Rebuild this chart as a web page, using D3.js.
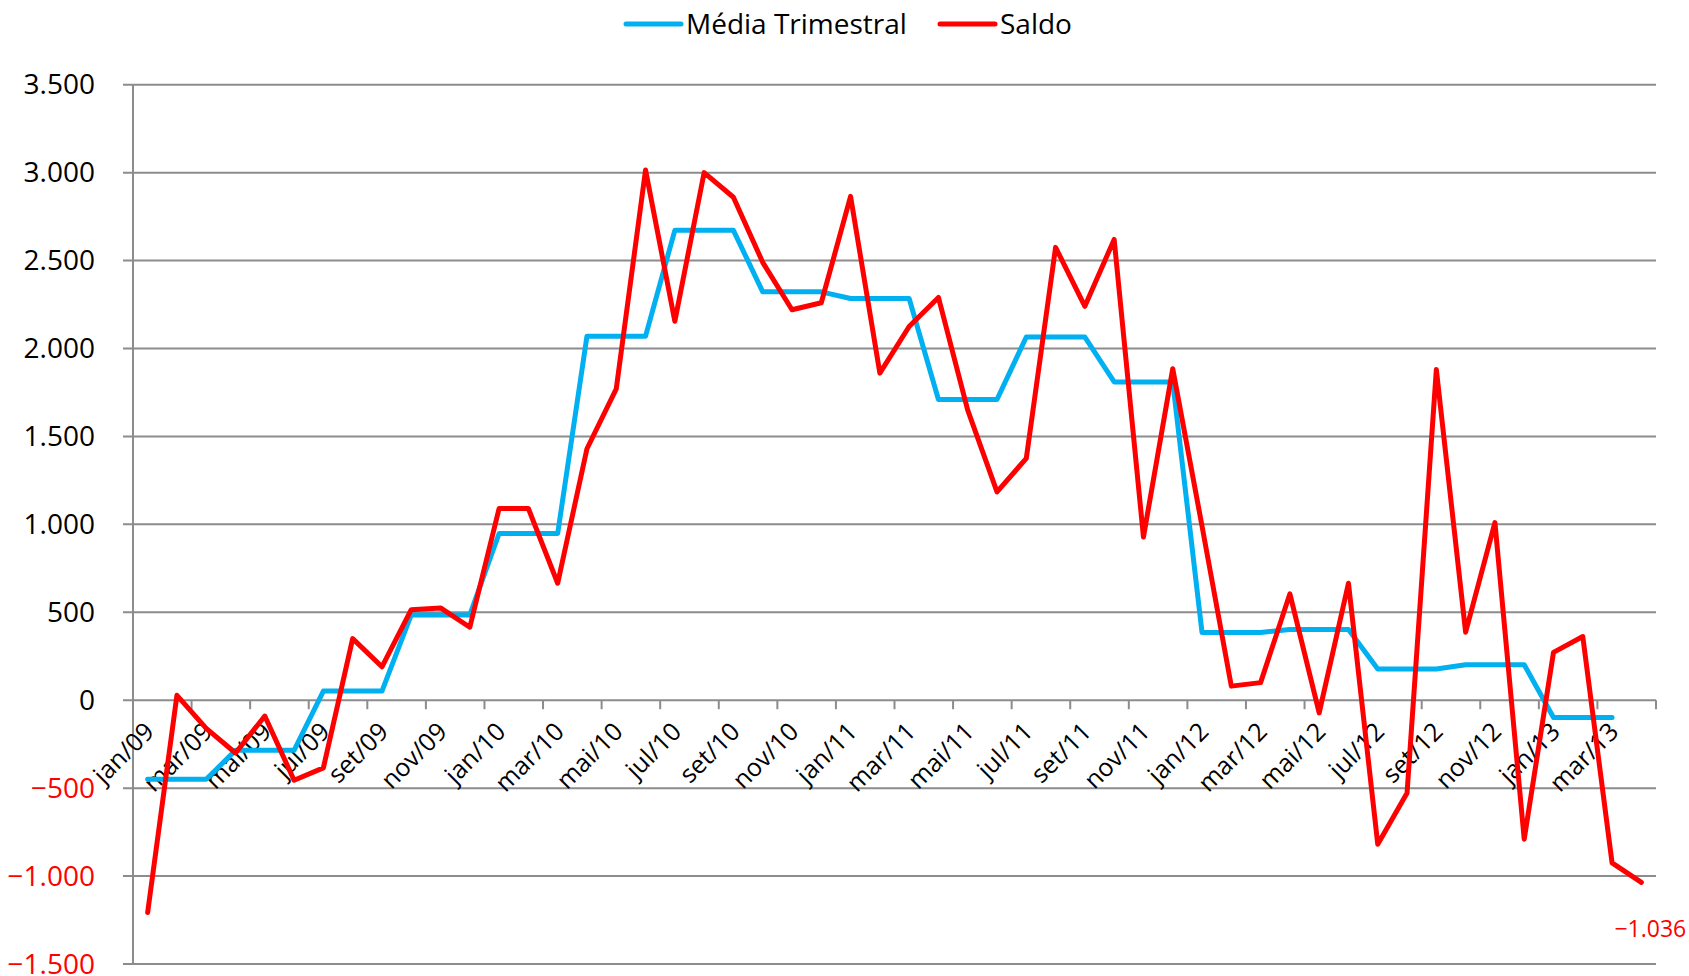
<!DOCTYPE html>
<html>
<head>
<meta charset="utf-8">
<script src="https://cdn.jsdelivr.net/npm/d3@7"></script>
<style>
 body {margin: 0; background: #fff;}
 text {font-family: "Open Sans", sans-serif;}
</style>
</head>
<body>
<svg width="1689" height="976"></svg>
<script>

// month categories, jan/09 .. abr/13
var months = [
 'jan/09','fev/09','mar/09','abr/09','mai/09','jun/09','jul/09','ago/09','set/09','out/09','nov/09','dez/09',
 'jan/10','fev/10','mar/10','abr/10','mai/10','jun/10','jul/10','ago/10','set/10','out/10','nov/10','dez/10',
 'jan/11','fev/11','mar/11','abr/11','mai/11','jun/11','jul/11','ago/11','set/11','out/11','nov/11','dez/11',
 'jan/12','fev/12','mar/12','abr/12','mai/12','jun/12','jul/12','ago/12','set/12','out/12','nov/12','dez/12',
 'jan/13','fev/13','mar/13','abr/13'];

var saldo = [-1207, 28, -160, -300, -90, -455, -385, 350, 190, 515, 525, 415,
 1090, 1090, 665, 1430, 1770, 3015, 2155, 3000, 2860, 2490, 2220, 2260,
 2865, 1860, 2125, 2290, 1650, 1185, 1375, 2575, 2240, 2620, 928, 1885,
 990, 80, 100, 605, -72, 665, -819, -528, 1880, 387, 1010, -790,
 272, 362, -925, -1036];

var media = [-450, -450, -450, -285, -285, -285, 52, 52, 52, 485, 485, 485,
 948, 948, 948, 2070, 2070, 2070, 2672, 2672, 2672, 2322, 2322, 2322,
 2284, 2284, 2284, 1710, 1710, 1710, 2065, 2065, 2065, 1810, 1810, 1810,
 385, 385, 385, 402, 402, 402, 178, 178, 178, 202, 202, 202,
 -98, -98, -98, null];

var yTicks = [-1500, -1000, -500, 0, 500, 1000, 1500, 2000, 2500, 3000, 3500];

var series = [
 {name: 'Média Trimestral', values: media, color: '#00B0F0'},
 {name: 'Saldo', values: saldo, color: '#FF0000'}
];

var svg = d3.select('svg');
var br = d3.formatLocale({decimal: ',', thousands: '.', grouping: [3], currency: ['R$', '']});
var fmt = br.format(',d');

var x = d3.scaleBand().domain(d3.range(months.length)).range([133, 1656]).padding(0);
var y = d3.scaleLinear().domain([-1500, 3500]).range([964, 84.7]);
var cx = function(i) { return x(i) + x.bandwidth() / 2; };

// gridlines
svg.append('g')
 .selectAll('line')
 .data(yTicks)
 .enter()
  .append('line')
   .attr('x1', 123).attr('x2', 1656)
   .attr('y1', function(d) { return y(d); })
   .attr('y2', function(d) { return y(d); })
   .style('stroke', '#8c8c8c').style('stroke-width', 2);

// y axis
svg.append('line')
 .attr('x1', 133).attr('x2', 133)
 .attr('y1', y(3500)).attr('y2', y(-1500))
 .style('stroke', '#8c8c8c').style('stroke-width', 2);

svg.append('g')
 .selectAll('text')
 .data(yTicks)
 .enter()
  .append('text')
   .attr('x', 95)
   .attr('y', function(d) { return y(d); })
   .attr('dy', '0.34em')
   .attr('text-anchor', 'end')
   .style('font-size', '28px')
   .style('fill', function(d) { return d < 0 ? '#FF0000' : '#000'; })
   .text(function(d) { return fmt(d); });

// x axis at zero
var tickIdx = d3.range(0, months.length + 1, 2);
svg.append('g')
 .selectAll('line')
 .data(tickIdx)
 .enter()
  .append('line')
   .attr('x1', function(i) { return i < months.length ? x(i) : 1656; })
   .attr('x2', function(i) { return i < months.length ? x(i) : 1656; })
   .attr('y1', y(0)).attr('y2', y(0) + 9)
   .style('stroke', '#8c8c8c').style('stroke-width', 2);

svg.append('g')
 .selectAll('text')
 .data(d3.range(0, months.length, 2))
 .enter()
  .append('text')
   .attr('transform', function(i) { return 'translate(' + (cx(i) + 8) + ',' + (y(0) + 33) + ') rotate(-45)'; })
   .attr('text-anchor', 'end')
   .style('font-size', '25px')
   .text(function(i) { return months[i]; });

// lines
var line = d3.line()
 .defined(function(d) { return d != null; })
 .x(function(d, i) { return cx(i); })
 .y(function(d) { return y(d); });

svg.append('g')
 .selectAll('path')
 .data(series)
 .enter()
  .append('path')
   .attr('d', function(s) { return line(s.values); })
   .style('fill', 'none')
   .style('stroke', function(s) { return s.color; })
   .style('stroke-width', 5)
   .style('stroke-linejoin', 'round')
   .style('stroke-linecap', 'round');

// data label on last point
var last = saldo.length - 1;
svg.append('text')
 .attr('x', cx(last) + 9)
 .attr('y', y(saldo[last]) + 55)
 .attr('text-anchor', 'middle')
 .style('font-size', '23px')
 .style('fill', '#FF0000')
 .text(fmt(saldo[last]));

// legend
var legX = [626, 940];
var leg = svg.append('g')
 .selectAll('g')
 .data(series)
 .enter()
  .append('g')
   .attr('transform', function(s, i) { return 'translate(' + legX[i] + ',24)'; });
leg.append('line')
 .attr('x1', 0).attr('x2', 55)
 .style('stroke', function(s) { return s.color; })
 .style('stroke-width', 5)
 .style('stroke-linecap', 'round');
leg.append('text')
 .attr('x', 60)
 .attr('dy', '0.36em')
 .style('font-size', '28px')
 .text(function(s) { return s.name; });

</script>
</body>
</html>
